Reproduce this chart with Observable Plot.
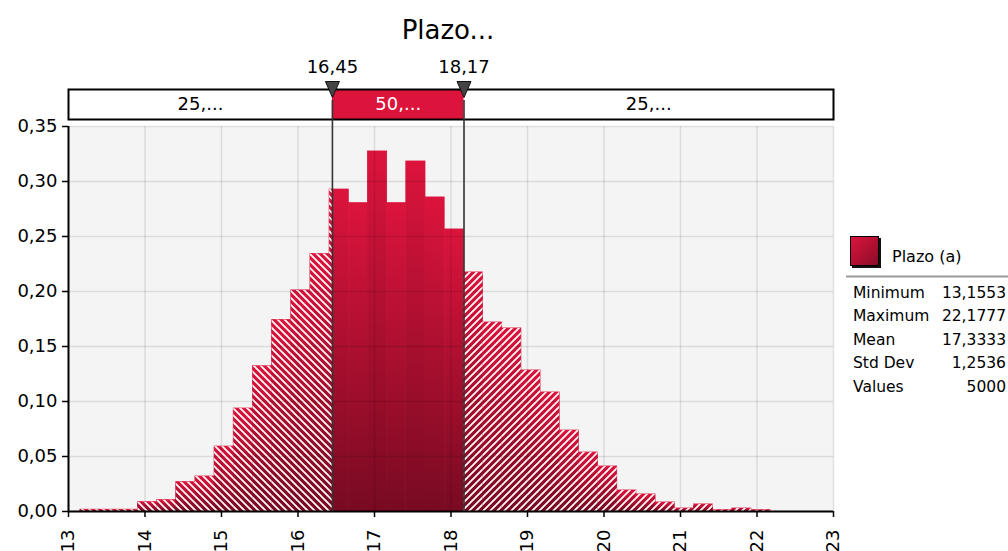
<!DOCTYPE html>
<html><head><meta charset="utf-8">
<script src="https://cdn.jsdelivr.net/npm/d3@7"></script>
<script src="https://cdn.jsdelivr.net/npm/@observablehq/plot@0.6"></script>
<style>
html,body{margin:0;padding:0;background:#fff;overflow:hidden;}
#wrap{position:relative;width:1008px;height:551px;}
</style></head><body><div id="wrap"></div>
<script>
// ---- data ----
const title = "Plazo...";
const seriesName = "Plazo (a)";
const binMin = 13.1553;
const binMax = 22.1777;
const densities = [0.0016,0.0016,0.0016,0.0085,0.0103,0.0267,0.0318,0.0590,0.0936,0.1320,0.1740,0.2010,0.2340,
  0.2927,0.2803,0.3273,0.2803,0.3182,0.2855,0.2564,
  0.2173,0.1718,0.1664,0.1282,0.1082,0.0736,0.0536,0.0409,0.0191,0.0155,0.0082,0.0027,0.0064,0.0012,0.0027,0.0012];
const markerValues = [16.45, 18.17];
const markerLabels = ["16,45", "18,17"];
const bandLabels = ["25,...", "50,...", "25,..."];
const xTicks = [13,14,15,16,17,18,19,20,21,22,23];
const yTicks = [0,0.05,0.10,0.15,0.20,0.25,0.30,0.35];
const statLabels = ["Minimum","Maximum","Mean","Std Dev","Values"];
const statValues = ["13,1553","22,1777","17,3333","1,2536","5000"];

// ---- derived ----
const w = (binMax - binMin) / densities.length;
const bins = densities.map((v, i) => ({a: binMin + i * w, b: binMin + (i + 1) * w, v}));
const [p1, p2] = markerValues;
const hatchL = [], hatchR = [];
for (const d of bins) {
  if (d.a < p1) hatchL.push({a: d.a, b: Math.min(d.b, p1), v: d.v});
  if (d.b > p2) hatchR.push({a: Math.max(d.a, p2), b: d.b, v: d.v});
}
const x0 = xTicks[0], x1 = xTicks[xTicks.length - 1];
const bandSegs = [
  {a: x0, b: p1, label: bandLabels[0], mid: false},
  {a: p1, b: p2, label: bandLabels[1], mid: true},
  {a: p2, b: x1, label: bandLabels[2], mid: false}
];
const markers = markerValues.map((v, i) => ({v, label: markerLabels[i]}));
const fmtY = d => d3.format(".2f")(d).replace(".", ",");
const tri = {draw(ctx) { ctx.moveTo(-7, -8); ctx.lineTo(7, -8); ctx.lineTo(0, 8); ctx.closePath(); }};
const CRIMSON = "#dc143c";
const FONT = "DejaVu Sans, sans-serif";

const bandTop = -37, bandBottom = 392;

const chart = Plot.plot({
  width: 1008, height: 551,
  marginLeft: 68, marginRight: 175, marginTop: 126, marginBottom: 40,
  x: {domain: [x0, x1], label: null},
  y: {domain: [yTicks[0], yTicks[yTicks.length - 1]], label: null},
  style: {fontFamily: FONT, fontSize: "18px", background: "#fff", overflow: "visible", color: "#000"},
  marks: [
    Plot.frame({fill: "#f4f4f4"}),
    Plot.rect(bins, {x1: "a", x2: "b", y1: 0, y2: "v", fill: "url(#barGrad)", stroke: "url(#barGrad)", strokeWidth: 0.8}),
    Plot.rect(hatchL, {x1: "a", x2: "b", y1: 0, y2: "v", fill: "url(#hatchL)"}),
    Plot.rect(hatchR, {x1: "a", x2: "b", y1: 0, y2: "v", fill: "url(#hatchR)"}),
    Plot.gridX(xTicks, {stroke: "#000", strokeOpacity: 0.1, strokeWidth: 1.5}),
    Plot.gridY(yTicks, {stroke: "#000", strokeOpacity: 0.1, strokeWidth: 1.5}),
    Plot.ruleY([yTicks[0]], {stroke: "#000", strokeWidth: 2}),
    Plot.ruleX([x0], {stroke: "#000", strokeWidth: 2}),
    Plot.axisY(yTicks, {tickSize: 6, tickPadding: 5, tickFormat: fmtY, fontSize: 18, strokeWidth: 1.5, label: null}),
    Plot.axisX(xTicks, {tickRotate: -90, tickSize: 6, tickPadding: 12, fontSize: 18, tickFormat: d => String(d), strokeWidth: 1.5, label: null}),
    // band
    Plot.rect(bandSegs.filter(d => !d.mid), {x1: "a", x2: "b", insetTop: bandTop, insetBottom: bandBottom, fill: "#fff"}),
    Plot.rect(bandSegs.filter(d => d.mid), {x1: "a", x2: "b", insetTop: bandTop, insetBottom: bandBottom, fill: CRIMSON}),
    Plot.frame({insetTop: bandTop, insetBottom: bandBottom, stroke: "#000", strokeWidth: 2, fill: "none"}),
    Plot.ruleX(markerValues, {stroke: "#333", strokeWidth: 1.6, insetTop: -26}),
    Plot.text(bandSegs.filter(d => !d.mid), {x: d => (d.a + d.b) / 2, text: "label", frameAnchor: "top", lineAnchor: "middle", dy: -22, fill: "#000", fontSize: 18}),
    Plot.text(bandSegs.filter(d => d.mid), {x: d => (d.a + d.b) / 2, text: "label", frameAnchor: "top", lineAnchor: "middle", dy: -22, fill: "#fff", fontSize: 18}),
    Plot.dot(markers, {x: "v", frameAnchor: "top", dy: -37, symbol: tri, fill: "#444", stroke: "#111", strokeWidth: 1}),
    Plot.text(markers, {x: "v", text: "label", frameAnchor: "top", lineAnchor: "middle", dy: -59, fill: "#000", fontSize: 18}),
    Plot.text([title], {frameAnchor: "top", lineAnchor: "middle", dy: -96, dx: -3, fill: "#000", fontSize: 26})
  ]
});

const svg = d3.select(chart);
const defs = svg.insert("defs", ":first-child");
const g = defs.append("linearGradient").attr("id", "barGrad").attr("x1", 0).attr("y1", 0).attr("x2", 0).attr("y2", 1);
g.append("stop").attr("offset", "0%").attr("stop-color", CRIMSON);
g.append("stop").attr("offset", "100%").attr("stop-color", "#780a22");
const sg = defs.append("linearGradient").attr("id", "swGrad").attr("x1", 0).attr("y1", 0).attr("x2", 1).attr("y2", 1);
sg.append("stop").attr("offset", "0%").attr("stop-color", CRIMSON);
sg.append("stop").attr("offset", "100%").attr("stop-color", "#8a0c28");
const pl = defs.append("pattern").attr("id", "hatchL").attr("patternUnits", "userSpaceOnUse").attr("width", 7).attr("height", 7);
pl.append("path").attr("d", "M-1,-1L8,8M-1,6L1,8M6,-1L8,1").attr("stroke", "#fff").attr("stroke-width", 1.7);
const pr = defs.append("pattern").attr("id", "hatchR").attr("patternUnits", "userSpaceOnUse").attr("width", 7).attr("height", 7);
pr.append("path").attr("d", "M-1,8L8,-1M-1,1L1,-1M6,8L8,6").attr("stroke", "#fff").attr("stroke-width", 1.7);

// legend
const lg = svg.append("g").attr("font-family", FONT).attr("fill", "#000").attr("text-anchor", "start");
lg.append("rect").attr("x", 852).attr("y", 238).attr("width", 29).attr("height", 30).attr("fill", "#111");
lg.append("rect").attr("x", 850.5).attr("y", 236.5).attr("width", 28).attr("height", 29).attr("fill", "url(#swGrad)").attr("stroke", "#000").attr("stroke-width", 1);
lg.append("text").attr("x", 892).attr("y", 256).attr("dy", "0.36em").attr("font-size", 16).text(seriesName);
lg.append("line").attr("x1", 846).attr("x2", 1008).attr("y1", 276.5).attr("y2", 276.5).attr("stroke", "#999").attr("stroke-width", 2);
statLabels.forEach((s, i) => {
  const y = 292.5 + i * 23.4;
  lg.append("text").attr("x", 853).attr("y", y).attr("dy", "0.36em").attr("font-size", 15.5).attr("text-anchor", "start").text(s);
  lg.append("text").attr("x", 1006).attr("y", y).attr("dy", "0.36em").attr("font-size", 15.5).attr("text-anchor", "end").text(statValues[i]);
});

document.getElementById("wrap").appendChild(chart);
</script></body></html>
